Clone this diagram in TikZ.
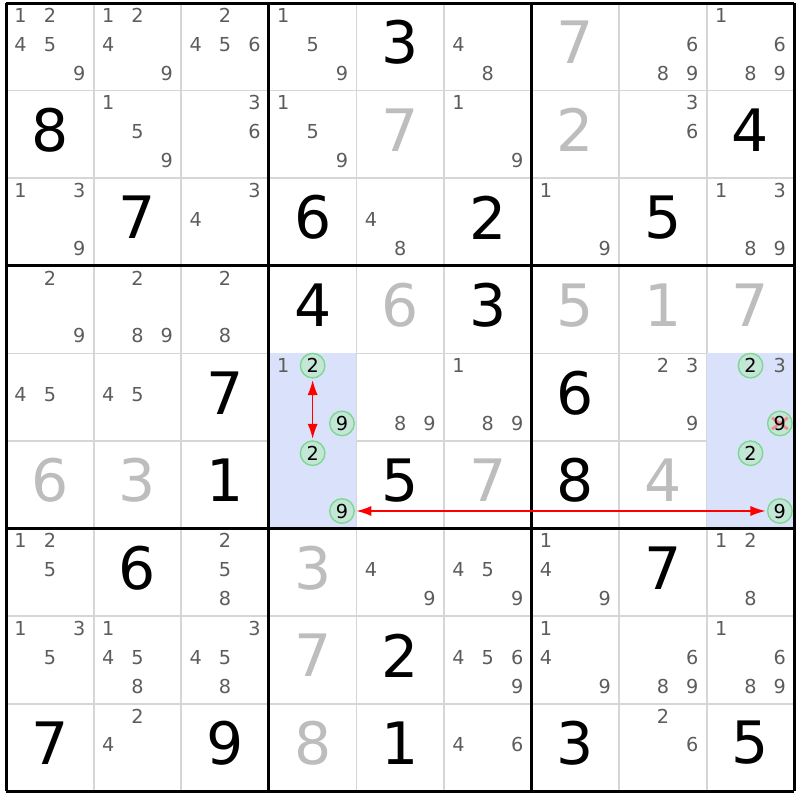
\documentclass[tikz,border=0pt]{standalone}
\usepackage{fontspec}
\setmainfont{DejaVu Sans}
\usetikzlibrary{arrows.meta,calc,positioning}
\definecolor{candgray}{HTML}{5C5C5C}
\definecolor{solvedgray}{HTML}{BDBDBD}
\definecolor{thingray}{HTML}{D6D6D6}
\definecolor{cellblue}{HTML}{D9E2FA}
\definecolor{pickfill}{HTML}{C3E6D6}
\definecolor{pickline}{HTML}{7CD88E}
\definecolor{crossred}{HTML}{F28C8C}

\begin{document}
\begin{tikzpicture}[x=2cm,y=2cm,
	given/.style={font=\fontsize{38}{38}\selectfont, text=black, inner sep=0pt},
	solved/.style={given, text=solvedgray},
	cand/.style={font=\fontsize{12.5}{12.5}\selectfont, text=candgray, inner sep=0pt},
	pick/.style={cand, text=black, circle, draw=pickline, fill=pickfill,
		line width=0.9pt, minimum size=0.56cm},
	dropped/.style={pick, path picture={
		\draw[crossred, line width=1.8pt]
		($(path picture bounding box.center)+(-0.18cm,0.13cm)$) -- ($(path picture bounding box.center)+(0.18cm,-0.13cm)$)
		($(path picture bounding box.center)+(-0.18cm,-0.13cm)$) -- ($(path picture bounding box.center)+(0.18cm,0.13cm)$);}},
	thinline/.style={thingray, line width=1.1pt},
	boxline/.style={black, line width=2pt},
	link/.style={red, line width=0.8pt, shorten <=1pt, shorten >=1pt,
		{Latex[length=3.4mm,width=2.3mm]}-{Latex[length=3.4mm,width=2.3mm]}}]
	\useasboundingbox (-0.07,0.035) rectangle (9.06,-9.10);
	% grid
	\foreach \i in {1,...,8} {
		\draw[thinline] (\i,0) -- (\i,-9);
		\draw[thinline] (0,-\i) -- (9,-\i);
	}
	% highlighted cells
	\fill[cellblue] (3,-4) rectangle (4,-6);
	\fill[cellblue] (8,-4) rectangle (9,-6);
	\foreach \i in {0,3,6,9} {
		\draw[boxline] (\i,0) -- (\i,-9);
		\draw[boxline] (0,-\i) -- (9,-\i);
	}
	% givens
	\foreach \r/\c/\v in {1/5/3, 2/1/8, 2/9/4, 3/2/7, 3/4/6, 3/6/2, 3/8/5,
		4/4/4, 4/6/3, 5/3/7, 5/7/6, 6/3/1, 6/5/5, 6/7/8, 7/2/6, 7/8/7,
		8/5/2, 9/1/7, 9/3/9, 9/5/1, 9/7/3, 9/9/5}
		\node[given] (g\r\c) at (\c-0.5,-\r+0.55) {\v};
	% solved cells
	\foreach \r/\c/\v in {1/7/7, 2/5/7, 2/7/2, 4/5/6, 4/7/5, 4/8/1, 4/9/7,
		6/1/6, 6/2/3, 6/6/7, 6/8/4, 7/4/3, 8/4/7, 9/4/8}
		\node[solved] (s\r\c) at (\c-0.5,-\r+0.55) {\v};
	% candidates
	\foreach \r/\c/\ds in {1/1/{1,2,4,5,9}, 1/2/{1,2,4,9}, 1/3/{2,4,5,6}, 1/4/{1,5,9},
		1/6/{4,8}, 1/8/{6,8,9}, 1/9/{1,6,8,9},
		2/2/{1,5,9}, 2/3/{3,6}, 2/4/{1,5,9}, 2/6/{1,9}, 2/8/{3,6},
		3/1/{1,3,9}, 3/3/{3,4}, 3/5/{4,8}, 3/7/{1,9}, 3/9/{1,3,8,9},
		4/1/{2,9}, 4/2/{2,8,9}, 4/3/{2,8},
		5/1/{4,5}, 5/2/{4,5}, 5/4/{1}, 5/5/{8,9}, 5/6/{1,8,9}, 5/8/{2,3,9}, 5/9/{3},
		7/1/{1,2,5}, 7/3/{2,5,8}, 7/5/{4,9}, 7/6/{4,5,9}, 7/7/{1,4,9}, 7/9/{1,2,8},
		8/1/{1,3,5}, 8/2/{1,4,5,8}, 8/3/{3,4,5,8}, 8/6/{4,5,6,9}, 8/7/{1,4,9},
		8/8/{6,8,9}, 8/9/{1,6,8,9},
		9/2/{2,4}, 9/6/{4,6}, 9/8/{2,6}}
		\foreach \d in \ds
			\node[cand] (k\r\c\d) at ({\c-0.835+0.335*mod(\d-1,3)},{-\r+0.86-0.33*int((\d-1)/3)}) {\d};
	% circled candidates
	\foreach \r/\c/\d in {5/4/2, 5/4/9, 6/4/2, 6/4/9, 5/9/2, 6/9/2, 6/9/9}
		\node[pick] (k\r\c\d) at ({\c-0.835+0.335*mod(\d-1,3)},{-\r+0.86-0.33*int((\d-1)/3)}) {\d};
	\node[dropped] (k599) at (8.835,-4.8) {9};
	% links
	\draw[link] (k542) -- (k642);
	\draw[link] (k649) -- (k699);
\end{tikzpicture}
\end{document}
